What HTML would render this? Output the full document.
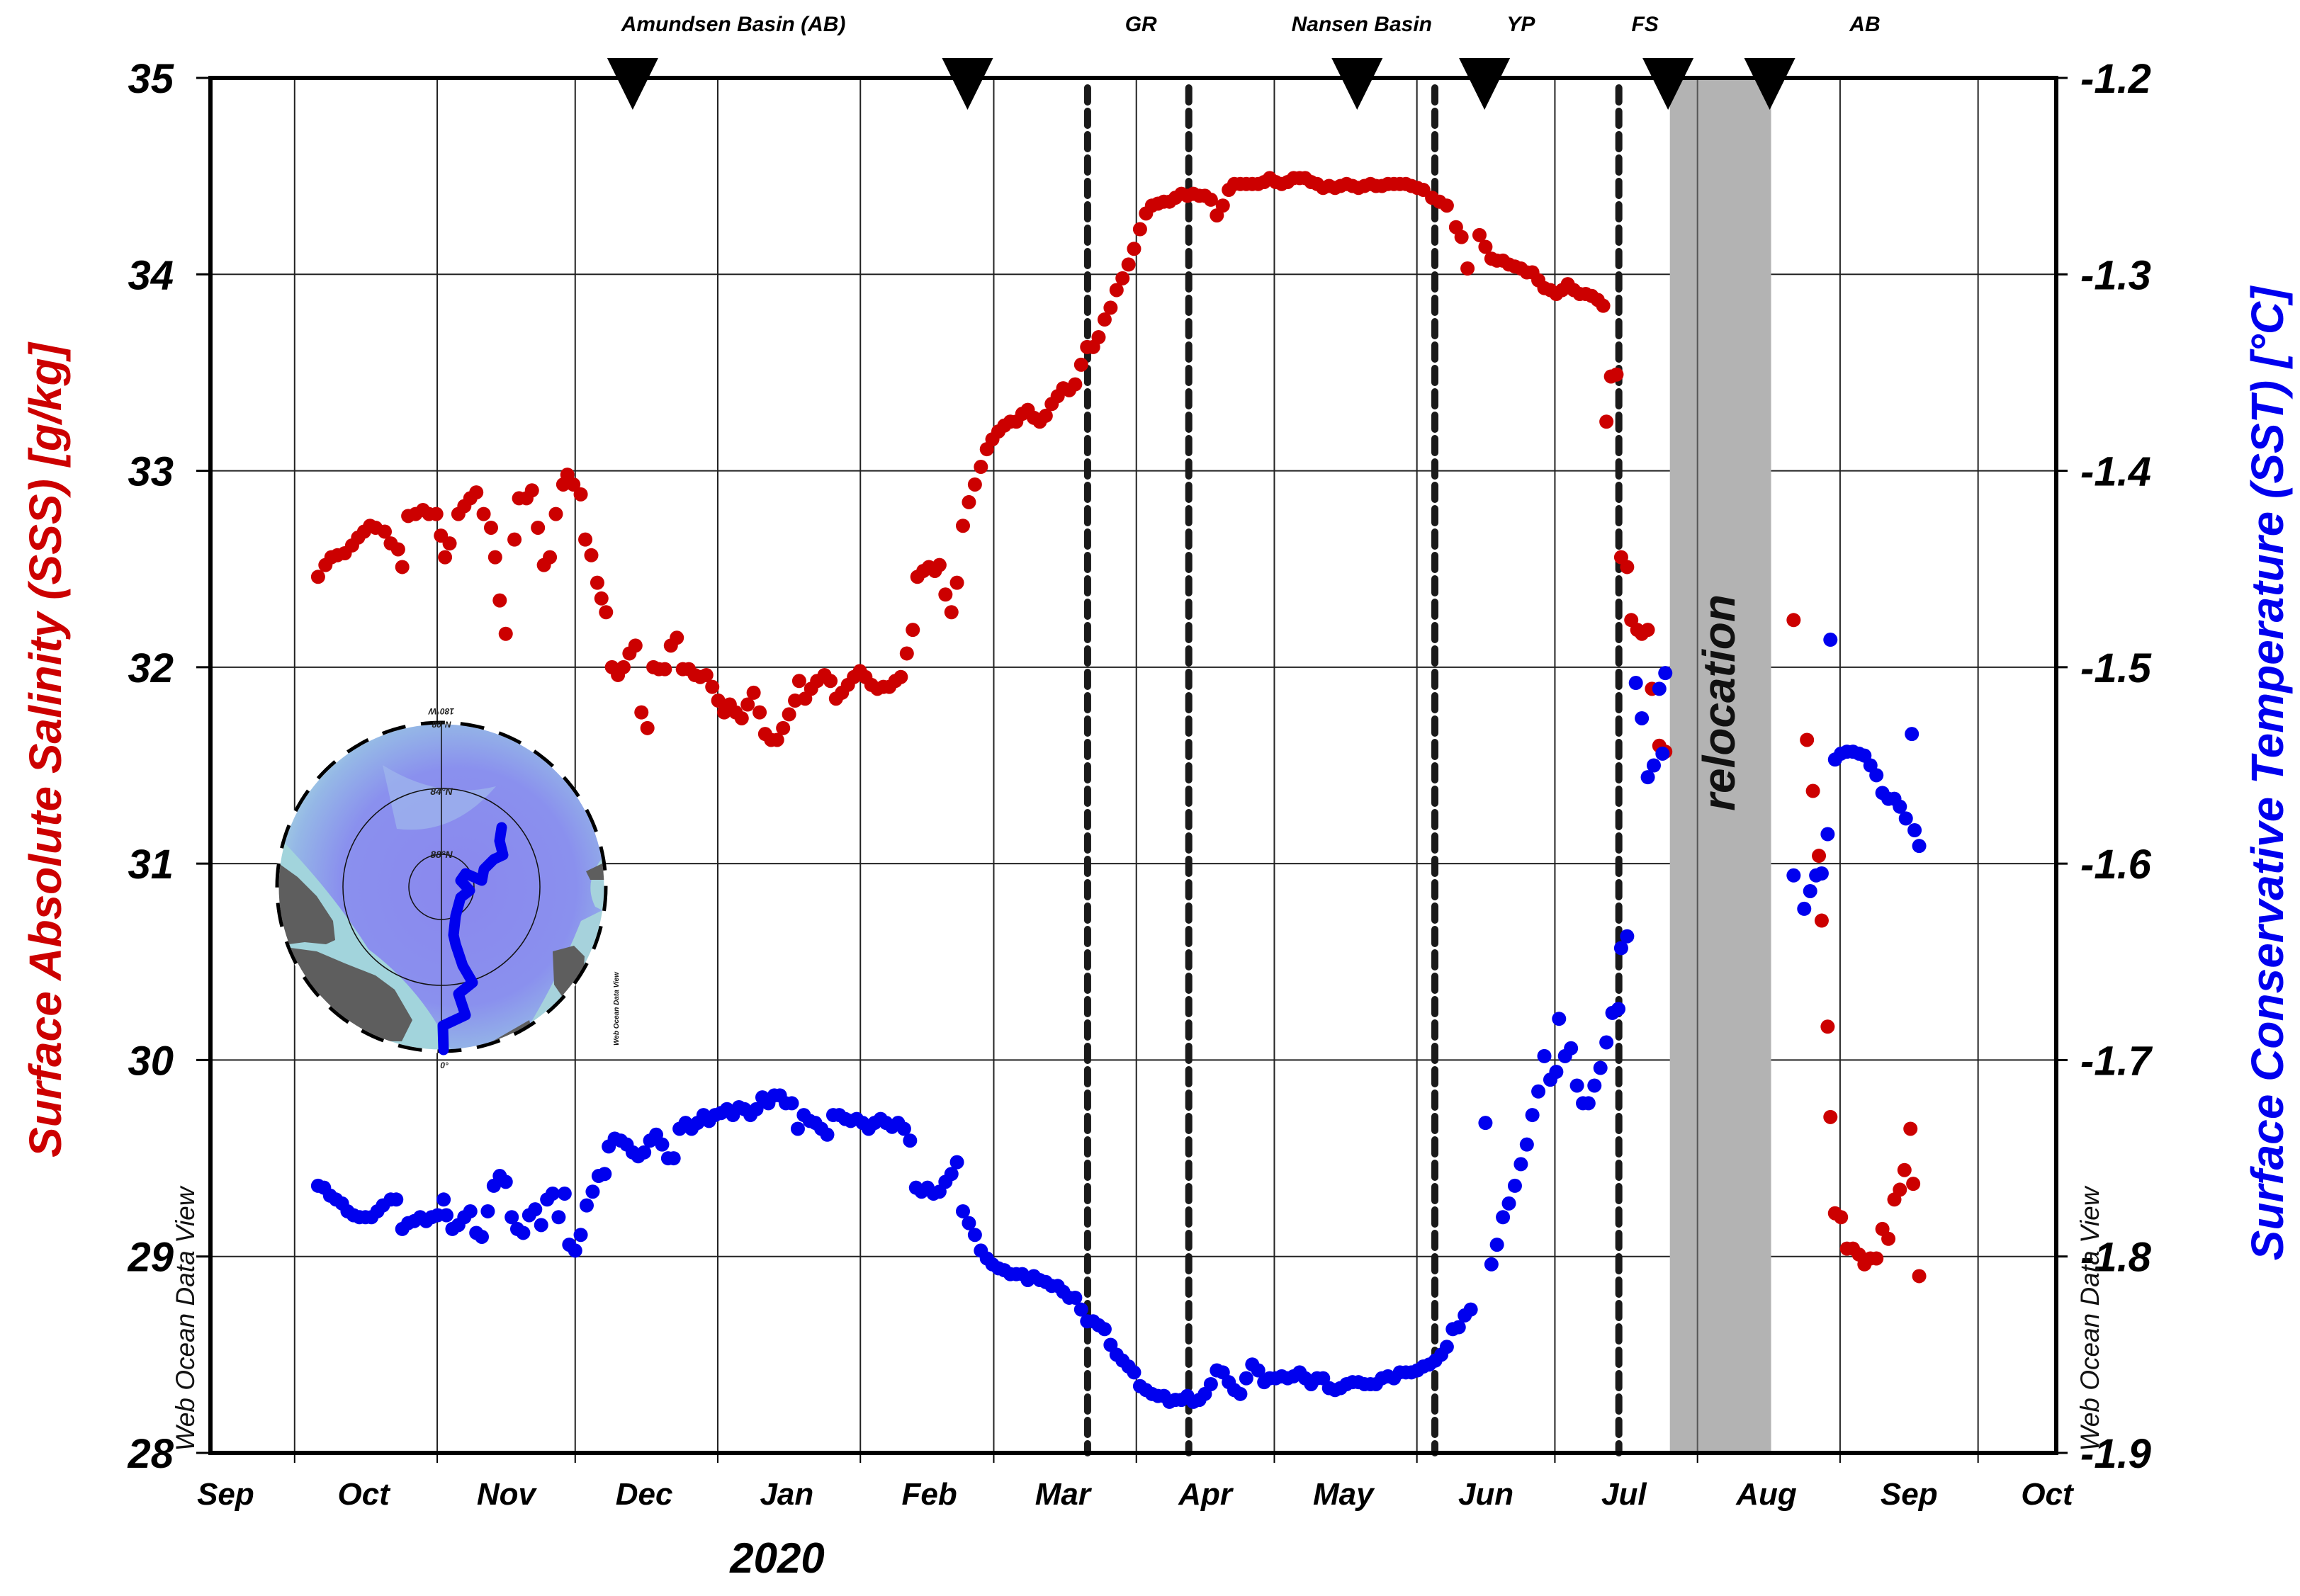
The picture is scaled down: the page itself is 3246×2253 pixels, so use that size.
<!DOCTYPE html>
<html><head><meta charset="utf-8">
<style>
html,body{margin:0;padding:0;background:#fff;}
svg{display:block;}
text{font-family:"Liberation Sans",sans-serif;}
</style></head>
<body>
<svg id="chart" xmlns="http://www.w3.org/2000/svg" width="3246" height="2253" viewBox="0 0 3246 2253"></svg>
<script>
// ---- data (days since 2019-10-01) ----
const sssDays=[5.1,6.7,8.0,9.3,10.9,12.5,13.8,15.1,16.4,17.6,19.6,20.9,22.5,23.4,24.7,26.3,27.9,29.2,30.8,31.8,32.7,33.7,35.6,36.9,38.2,39.5,41.1,42.7,43.6,44.6,45.9,47.8,48.8,50.4,51.6,52.9,54.2,55.5,56.8,58.4,59.3,60.6,62.2,63.2,64.5,65.8,66.7,67.7,69.0,70.3,71.5,72.8,74.1,75.4,76.7,78.0,79.2,80.5,81.8,83.1,84.4,85.7,87.0,88.2,89.5,90.8,92.1,93.4,94.6,95.9,97.2,98.5,99.8,101.1,102.3,103.6,104.9,106.2,107.5,108.8,109.7,111.0,112.3,113.6,115.2,116.5,117.7,119.0,120.3,121.6,122.9,124.1,125.4,126.7,128.0,129.3,130.6,131.8,133.1,134.4,135.4,136.7,137.9,139.2,140.2,141.5,142.8,144.0,145.3,146.6,147.9,149.2,150.5,151.7,153.0,154.3,155.6,156.9,158.2,159.4,160.7,162.0,163.3,164.6,165.9,167.1,168.4,169.7,171.0,172.3,173.6,174.8,176.1,177.4,178.7,180.0,181.3,182.5,183.8,185.1,186.4,187.7,189.0,190.2,191.5,192.8,194.1,195.4,196.7,197.9,199.2,200.5,201.8,203.1,204.3,205.6,206.9,208.2,209.5,210.8,212.0,213.3,214.6,215.9,217.2,218.5,219.7,221.0,222.3,223.6,224.9,226.2,227.4,228.7,230.0,231.3,232.6,233.9,235.1,236.4,237.7,239.0,240.3,241.6,242.8,244.1,245.4,247.3,248.9,250.5,252.5,253.7,255.0,257.6,258.9,260.2,261.4,262.7,264.0,265.3,266.6,267.9,269.1,270.4,271.7,273.0,274.3,275.6,276.8,278.1,279.4,280.7,282.0,283.3,284.5,285.2,286.2,287.4,288.4,289.7,290.6,291.9,292.9,294.2,295.1,296.7,298.0,325.9,328.8,330.1,331.4,332.0,333.3,333.9,334.9,336.2,337.5,338.8,340.1,341.3,342.6,343.9,345.2,346.5,347.8,349.0,350.0,351.3,351.9,353.2];
const sssValues=[32.46,32.52,32.56,32.57,32.58,32.62,32.66,32.69,32.72,32.71,32.69,32.63,32.60,32.51,32.77,32.78,32.80,32.78,32.78,32.67,32.56,32.63,32.78,32.82,32.86,32.89,32.78,32.71,32.56,32.34,32.17,32.65,32.86,32.86,32.90,32.71,32.52,32.56,32.78,32.93,32.98,32.93,32.88,32.65,32.57,32.43,32.35,32.28,32.00,31.96,32.00,32.07,32.11,31.77,31.69,32.00,31.99,31.99,32.11,32.15,31.99,31.99,31.96,31.95,31.96,31.90,31.83,31.77,31.81,31.77,31.74,31.81,31.87,31.77,31.66,31.63,31.63,31.69,31.76,31.83,31.93,31.84,31.89,31.93,31.96,31.93,31.84,31.87,31.91,31.95,31.98,31.95,31.91,31.89,31.90,31.90,31.93,31.95,32.07,32.19,32.46,32.49,32.51,32.49,32.52,32.37,32.28,32.43,32.72,32.84,32.93,33.02,33.11,33.16,33.20,33.23,33.25,33.25,33.29,33.31,33.27,33.25,33.28,33.34,33.38,33.42,33.41,33.44,33.54,33.63,33.63,33.68,33.77,33.83,33.92,33.98,34.05,34.13,34.23,34.31,34.35,34.36,34.37,34.37,34.39,34.41,34.40,34.41,34.40,34.40,34.38,34.30,34.35,34.43,34.46,34.46,34.46,34.46,34.46,34.47,34.49,34.47,34.46,34.47,34.49,34.49,34.49,34.47,34.46,34.44,34.45,34.44,34.45,34.46,34.45,34.44,34.45,34.46,34.45,34.45,34.46,34.46,34.46,34.46,34.45,34.44,34.43,34.39,34.37,34.35,34.24,34.19,34.03,34.20,34.14,34.08,34.07,34.07,34.05,34.04,34.03,34.01,34.01,33.97,33.93,33.92,33.90,33.92,33.95,33.92,33.90,33.90,33.89,33.87,33.84,33.25,33.48,33.49,32.56,32.51,32.24,32.19,32.17,32.19,31.89,31.60,31.57,32.24,31.63,31.37,31.04,30.71,30.17,29.71,29.22,29.20,29.04,29.04,29.01,28.96,28.99,28.99,29.14,29.09,29.29,29.34,29.44,29.65,29.37,28.90];
const sstDays=[5.1,6.4,7.7,9.0,10.3,11.5,12.8,14.1,15.4,16.7,18.0,19.2,20.9,22.1,23.4,24.7,26.0,27.3,28.6,29.8,31.1,32.4,33.0,34.3,35.6,36.9,38.2,39.5,40.7,42.0,43.3,44.6,45.9,47.2,48.4,49.7,51.0,52.3,53.6,54.9,56.1,57.4,58.7,59.7,61.0,62.2,63.5,64.8,66.1,67.4,68.3,69.6,70.9,72.2,73.5,74.7,76.0,77.3,78.6,79.9,81.2,82.4,83.7,85.0,86.3,87.6,88.9,90.1,91.4,92.7,94.0,95.3,96.6,97.8,99.1,100.4,101.7,103.0,104.3,105.5,106.8,108.1,109.4,110.7,112.0,113.2,114.5,115.8,117.1,118.4,119.7,120.9,122.2,123.5,124.8,126.1,127.4,128.6,129.9,131.2,132.5,133.8,135.1,136.3,137.6,138.9,140.2,141.5,142.8,144.0,145.3,146.6,147.9,149.2,150.5,151.7,153.0,154.3,155.6,156.9,158.2,159.4,160.7,162.0,163.3,164.6,165.9,167.1,168.4,169.7,171.0,172.3,173.6,174.8,176.1,177.4,178.7,180.0,181.3,182.5,183.8,185.1,186.4,187.7,189.0,190.2,191.5,192.8,194.1,195.4,196.7,197.9,199.2,200.5,201.8,203.1,204.3,205.6,206.9,208.2,209.5,210.8,212.0,213.3,214.6,215.9,217.2,218.5,219.7,221.0,222.3,223.6,224.9,226.2,227.4,228.7,230.0,231.3,232.6,233.9,235.1,236.4,237.7,239.0,240.3,241.6,242.8,244.1,245.4,246.7,248.0,249.3,250.5,251.8,253.1,254.4,255.7,258.9,260.2,261.4,262.7,264.0,265.3,266.6,267.9,269.1,270.4,271.7,273.0,274.3,274.9,276.2,277.5,278.8,280.1,281.3,282.6,283.9,285.2,286.5,287.8,288.4,289.7,291.6,292.9,294.2,295.5,296.7,297.4,298.0,325.9,328.2,329.5,330.8,332.0,333.3,333.9,334.9,336.2,337.5,338.8,340.1,341.3,342.6,343.9,345.2,346.5,347.8,349.0,350.3,351.6,352.2,353.2];
const sstValues=[-1.764,-1.765,-1.769,-1.771,-1.773,-1.777,-1.779,-1.780,-1.780,-1.780,-1.777,-1.774,-1.771,-1.771,-1.786,-1.783,-1.782,-1.780,-1.782,-1.780,-1.779,-1.771,-1.779,-1.786,-1.784,-1.780,-1.777,-1.788,-1.790,-1.777,-1.764,-1.759,-1.762,-1.780,-1.786,-1.788,-1.779,-1.776,-1.784,-1.771,-1.768,-1.780,-1.768,-1.794,-1.797,-1.789,-1.774,-1.767,-1.759,-1.758,-1.744,-1.740,-1.741,-1.743,-1.747,-1.749,-1.747,-1.741,-1.738,-1.743,-1.750,-1.750,-1.735,-1.732,-1.735,-1.732,-1.728,-1.731,-1.728,-1.727,-1.725,-1.728,-1.724,-1.725,-1.728,-1.725,-1.719,-1.722,-1.718,-1.718,-1.722,-1.722,-1.735,-1.728,-1.731,-1.732,-1.735,-1.738,-1.728,-1.728,-1.730,-1.731,-1.730,-1.732,-1.735,-1.732,-1.730,-1.732,-1.734,-1.732,-1.735,-1.741,-1.765,-1.767,-1.765,-1.768,-1.767,-1.762,-1.758,-1.752,-1.777,-1.783,-1.789,-1.797,-1.801,-1.804,-1.806,-1.807,-1.809,-1.809,-1.809,-1.812,-1.810,-1.812,-1.813,-1.815,-1.815,-1.818,-1.821,-1.821,-1.827,-1.833,-1.833,-1.835,-1.837,-1.845,-1.850,-1.853,-1.856,-1.859,-1.866,-1.868,-1.870,-1.871,-1.871,-1.874,-1.873,-1.873,-1.871,-1.874,-1.873,-1.870,-1.865,-1.858,-1.859,-1.864,-1.868,-1.870,-1.862,-1.855,-1.858,-1.864,-1.862,-1.862,-1.861,-1.862,-1.861,-1.859,-1.862,-1.865,-1.862,-1.862,-1.867,-1.868,-1.867,-1.865,-1.864,-1.864,-1.865,-1.865,-1.865,-1.862,-1.861,-1.862,-1.859,-1.859,-1.859,-1.858,-1.856,-1.855,-1.853,-1.850,-1.846,-1.837,-1.836,-1.830,-1.827,-1.732,-1.804,-1.794,-1.780,-1.773,-1.764,-1.753,-1.743,-1.728,-1.716,-1.698,-1.710,-1.706,-1.679,-1.698,-1.694,-1.713,-1.722,-1.722,-1.713,-1.704,-1.691,-1.676,-1.674,-1.643,-1.637,-1.508,-1.526,-1.556,-1.550,-1.511,-1.544,-1.503,-1.606,-1.623,-1.614,-1.606,-1.605,-1.585,-1.486,-1.547,-1.544,-1.543,-1.543,-1.544,-1.545,-1.550,-1.555,-1.564,-1.567,-1.567,-1.571,-1.577,-1.534,-1.583,-1.591];
const sssTicks=[28,29,30,31,32,33,34,35];
const sstTickLabels=["-1.9","-1.8","-1.7","-1.6","-1.5","-1.4","-1.3","-1.2"];
const monthStarts=[0,31,61,92,123,152,183,213,244,274,305,336,366];
const monthLabels=["Sep","Oct","Nov","Dec","Jan","Feb","Mar","Apr","May","Jun","Jul","Aug","Sep","Oct"];
const monthMids=[-15,15,46,76,107,138,167,198,228,259,289,320,351,381];
const eventDays=[172.4,194.4,247.9,287.9];
const triangleDays=[73.5,146.3,231,258.7,298.6,320.7];
const regionNames=["Amundsen Basin (AB)","GR","Nansen Basin","YP","FS","AB"];
const regionDays=[95.4,184,232,266.6,293.6,341.4];
const relocationStart=299, relocationEnd=321;

// ---- scales ----
const L=297,R=2902,T=110,B=2051;
const dMin=-18.3, dMax=383.0;
const x=d=>L+(d-dMin)/(dMax-dMin)*(R-L);
const yS=s=>B-(s-28)/(35-28)*(B-T);
const yT=t=>B-(t-(-1.9))/((-1.2)-(-1.9))*(B-T);

const NS="http://www.w3.org/2000/svg";
const svg=document.getElementById('chart');
function mk(tag,attrs,parent){const e=document.createElementNS(NS,tag);for(const k in attrs)e.setAttribute(k,attrs[k]);(parent||svg).appendChild(e);return e;}

// grid
const grid=mk('g',{stroke:'#222','stroke-width':2});


monthStarts.forEach(d=>{const l=mk('line',{x1:x(d),x2:x(d),y1:T,y2:B},grid);

});
sssTicks.forEach(s=>{const l=mk('line',{x1:L,x2:R,y1:yS(s),y2:yS(s)},grid);

});
// relocation band
const band=mk('rect',{x:x(relocationStart),y:T,width:x(relocationEnd)-x(relocationStart),height:B-T,fill:'#b3b3b3'});


mk('line',{x1:x(305),x2:x(305),y1:T,y2:B,stroke:'#555','stroke-width':2});

// event dashed lines
eventDays.forEach(d=>{const l=mk('line',{x1:x(d),x2:x(d),y1:T+14,y2:B,stroke:'#1a1a1a','stroke-width':10,'stroke-dasharray':'20 13','stroke-linecap':'round'});

});

// inset map
const map=mk('g',{});


const cx=623,cy=1252,r=232;
const defs=mk('defs',{});
const cp=mk('clipPath',{id:'mc'},defs);mk('circle',{cx:cx,cy:cy,r:r},cp);
const rg=mk('radialGradient',{id:'og',cx:'0.55',cy:'0.5',r:'0.6'},defs);
mk('stop',{offset:'0','stop-color':'#8a88ee'},rg);mk('stop',{offset:'0.6','stop-color':'#8a90ee'},rg);mk('stop',{offset:'0.85','stop-color':'#95b8e6'},rg);mk('stop',{offset:'1','stop-color':'#a8d8e0'},rg);
const mg=mk('g',{'clip-path':'url(#mc)'},map);
mk('circle',{cx:cx,cy:cy,r:r,fill:'url(#og)'},mg);
mk('path',{d:'M392 1180 Q470 1260 520 1340 Q600 1400 640 1490 L392 1490 Z',fill:'#a2d4dc'},mg);
mk('path',{d:'M540 1080 Q620 1130 700 1110 Q640 1180 560 1170 Z',fill:'#9fb8ec',opacity:0.7},mg);
mk('path',{d:'M820 1300 Q780 1400 720 1490 L860 1490 L860 1280 Z',fill:'#a6d2dc'},mg);
mk('path',{d:'M860 1200 Q820 1240 840 1280 L860 1290 Z',fill:'#a6d2dc'},mg);
mk('polygon',{points:'388,1215 420,1238 447,1265 470,1300 473,1327 460,1333 430,1330 407,1333 398,1300 388,1265',fill:'#5e5e5e'},mg);
mk('polygon',{points:'410,1338 447,1343 487,1360 530,1377 557,1397 582,1440 567,1470 530,1470 480,1440 420,1390 400,1360',fill:'#5e5e5e'},mg);
mk('polygon',{points:'827,1230 852,1218 856,1242 833,1242',fill:'#5e5e5e'},mg);
mk('polygon',{points:'780,1343 810,1335 825,1350 822,1400 797,1412 782,1390',fill:'#5e5e5e'},mg);
mk('polygon',{points:'695,1470 747,1440 752,1460 730,1480',fill:'#5e5e5e'},mg);
mk('circle',{cx:cx,cy:cy,r:139,fill:'none',stroke:'#111','stroke-width':1.5},map);
mk('circle',{cx:cx,cy:cy,r:46,fill:'none',stroke:'#111','stroke-width':1.5},map);
mk('line',{x1:cx,x2:cx,y1:cy-r,y2:cy+r,stroke:'#111','stroke-width':1.5},map);
mk('circle',{cx:cx,cy:cy,r:r,fill:'none',stroke:'#fff','stroke-width':5},map);
mk('circle',{cx:cx,cy:cy,r:r,fill:'none',stroke:'#000','stroke-width':5,'stroke-dasharray':'34 22'},map);
mk('polyline',{points:'626,1482 625,1448 657,1433 647,1403 667,1387 653,1363 643,1333 640,1320 643,1293 650,1267 663,1257 650,1243 657,1233 680,1243 683,1227 697,1213 710,1207 705,1187 708,1168',fill:'none',stroke:'#0000ee','stroke-width':15,'stroke-linejoin':'round','stroke-linecap':'round'},map);
[['84°N',623,1122,14],['88°N',623,1211,14],['80°N',623,1027,12],['0°',627,1508,12]].forEach(a=>{const t=mk('text',{x:a[1],y:a[2],'font-size':a[3],'font-style':'italic','font-weight':'bold','text-anchor':'middle',fill:'#222'},map);t.textContent=a[0];});
const t180=mk('text',{x:623,y:1008,'font-size':12,'font-style':'italic','font-weight':'bold','text-anchor':'middle',fill:'#222',transform:'rotate(180 623 1004)'},map);t180.textContent='180°W';
const mw=mk('text',{x:0,y:0,'font-size':10,'font-style':'italic','font-weight':'bold',fill:'#111','text-anchor':'middle',transform:'translate(873 1424) rotate(-90)'},map);mw.textContent='Web Ocean Data View';

// series
const gS=mk('g',{fill:'#cc0000'});


sssDays.forEach((d,i)=>{const c=mk('circle',{cx:x(d),cy:yS(sssValues[i]),r:10},gS);

});
const gT=mk('g',{fill:'#0000ee'});


sstDays.forEach((d,i)=>{const c=mk('circle',{cx:x(d),cy:yT(sstValues[i]),r:10},gT);

});

// frame
const fr=mk('rect',{x:L,y:T,width:R-L,height:B-T,fill:'none',stroke:'#000','stroke-width':6});



// relocation label
const rl=mk('text',{x:0,y:0,'font-size':64,'font-style':'italic','font-weight':'bold','text-anchor':'middle',fill:'#111',transform:'translate(2448 992) rotate(-90)'});
rl.textContent='relocation';



// triangles
triangleDays.forEach(d=>{const p=mk('polygon',{points:`${x(d)-36},82 ${x(d)+36},82 ${x(d)},155`,fill:'#000'});

});
regionNames.forEach((n,i)=>{const t=mk('text',{x:x(regionDays[i]),y:44,'font-size':30,'font-style':'italic','font-weight':'bold','text-anchor':'middle'});t.textContent=n;

});

// left axis
sssTicks.forEach(s=>{mk('line',{x1:L-20,x2:L,y1:yS(s),y2:yS(s),stroke:'#000','stroke-width':3});
const t=mk('text',{x:245,y:yS(s)+21,'font-size':58,'font-style':'italic','font-weight':'bold','text-anchor':'end'});t.textContent=s;

});
// right axis
sstTickLabels.forEach((lab,i)=>{const yy=yT(-1.9+0.1*i);mk('line',{x1:R,x2:R+16,y1:yy,y2:yy,stroke:'#000','stroke-width':3});
const t=mk('text',{x:2936,y:yy+21,'font-size':58,'font-style':'italic','font-weight':'bold'});t.textContent=lab;

});
// x axis
monthStarts.forEach(d=>{mk('line',{x1:x(d),x2:x(d),y1:B,y2:B+14,stroke:'#000','stroke-width':2});});
monthLabels.forEach((m,i)=>{const t=mk('text',{x:x(monthMids[i]),y:2124,'font-size':44,'font-style':'italic','font-weight':'bold','text-anchor':'middle'});t.textContent=m;

});
const yr=mk('text',{x:1097,y:2220,'font-size':60,'font-style':'italic','font-weight':'bold','text-anchor':'middle'});yr.textContent='2020';



// axis titles
const lt=mk('text',{x:0,y:0,'font-size':64,'font-style':'italic','font-weight':'bold','text-anchor':'middle',fill:'#cc0000',transform:'translate(86 1059) rotate(-90)'});
lt.textContent='Surface Absolute Salinity (SSS) [g/kg]';


const rt=mk('text',{x:0,y:0,'font-size':64,'font-style':'italic','font-weight':'bold','text-anchor':'middle',fill:'#0000ee',transform:'translate(3222 1092) rotate(-90)'});
rt.textContent='Surface Conservative Temperature (SST) [°C]';



// watermarks
[[274,1862],[2962,1862]].forEach(p=>{const t=mk('text',{x:0,y:0,'font-size':37,'font-style':'italic','text-anchor':'middle',fill:'#111',transform:`translate(${p[0]} ${p[1]}) rotate(-90)`});t.textContent='Web Ocean Data View';

});
</script>
</body></html>
